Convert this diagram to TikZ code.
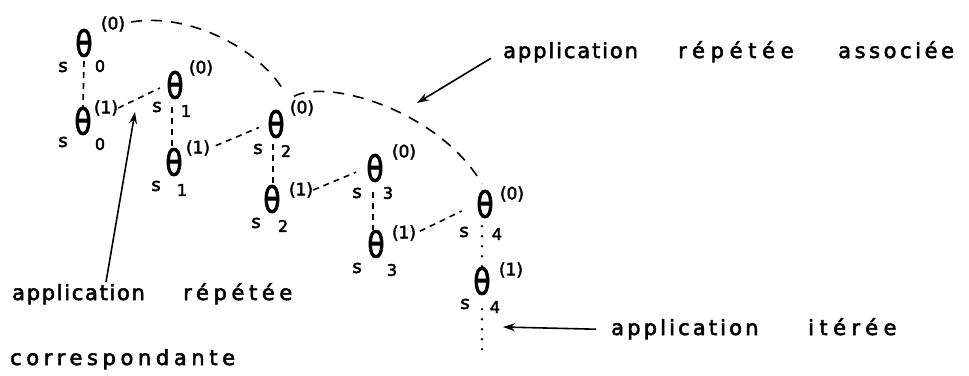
\documentclass[tikz,border=0pt]{standalone}
\usepackage{fontspec}
\setmainfont{DejaVu Sans}
\newfontfamily\hand[FakeBold=2.5]{DejaVu Sans}
\usetikzlibrary{arrows.meta,calc}
\tikzset{
  th/.style={inner sep=0pt, font=\hand\fontsize{36}{36}\selectfont},
  sl/.style={inner sep=0pt, font=\hand\fontsize{18}{18}\selectfont},
  ix/.style={inner sep=0pt, font=\hand\fontsize{16}{16}\selectfont},
  sp/.style={inner sep=0pt, font=\hand\fontsize{17}{17}\selectfont},
  word/.style={inner sep=0pt, anchor=base west, font=\hand\fontsize{21}{21}\selectfont},
  tree/.style={line width=1.6pt, dash pattern=on 6pt off 5pt},
  bigarc/.style={line width=1.6pt, dash pattern=on 11pt off 9pt},
  dots/.style={line width=2.6pt, line cap=round, dash pattern=on 0pt off 10pt},
  arr/.style={line width=1.6pt, -{Stealth[length=12pt,width=8pt]}},
}
\newcommand{\thet}{\scalebox{0.78}[1]{θ}}
\begin{document}
\begin{tikzpicture}[x=1pt,y=-1pt]
\useasboundingbox (0,0) rectangle (969,375);
% level 0
\node[th] (t00) at (84,43) {\thet};
\node[sl] (s00) at (63,67) {s};
\node[ix] (i00) at (100,66) {0};
\node[sp] (p00) at (113,24) {(0)};
\node[th] (t01) at (83,121) {\thet};
\node[sl] (s01) at (63,142) {s};
\node[ix] (i01) at (100,144) {0};
\node[sp] (p01) at (106,108) {(1)};
% level 1
\node[th] (t10) at (175,85) {\thet};
\node[sl] (s10) at (157,107) {s};
\node[ix] (i10) at (186,111) {1};
\node[sp] (p10) at (201,68) {(0)};
\node[th] (t11) at (174,162) {\thet};
\node[sl] (s11) at (156,186) {s};
\node[ix] (i11) at (182,190) {1};
\node[sp] (p11) at (198,148) {(1)};
% level 2
\node[th] (t20) at (276,124) {\thet};
\node[sl] (s20) at (258,149) {s};
\node[ix] (i20) at (286,151) {2};
\node[sp] (p20) at (302,108) {(0)};
\node[th] (t21) at (272,199) {\thet};
\node[sl] (s21) at (256,223) {s};
\node[ix] (i21) at (283,226) {2};
\node[sp] (p21) at (301,190) {(1)};
% level 3
\node[th] (t30) at (375,168) {\thet};
\node[sl] (s30) at (357,193) {s};
\node[ix] (i30) at (388,193) {3};
\node[sp] (p30) at (404,152) {(0)};
\node[th] (t31) at (376,244) {\thet};
\node[sl] (s31) at (357,268) {s};
\node[ix] (i31) at (392,270) {3};
\node[sp] (p31) at (404,233) {(1)};
% level 4
\node[th] (t40) at (485,204) {\thet};
\node[sl] (s40) at (464,232) {s};
\node[ix] (i40) at (497,234) {4};
\node[sp] (p40) at (512,194) {(0)};
\node[th] (t41) at (482,281) {\thet};
\node[sl] (s41) at (465,304) {s};
\node[ix] (i41) at (495,307) {4};
\node[sp] (p41) at (511,270) {(1)};
\coordinate (e41) at (482,356);
% vertical links
\draw[tree] (t00.south) ++(0,4) -- (t01.north);
\draw[tree] (t10.south) ++(-3,8) -- ($(t11.north)+(-2,0)$);
\draw[tree] (t20.south) ++(-3,6) -- ($(t21.north)+(1,0)$);
\draw[tree] (t30.south) ++(-2,10) -- ($(t31.north)+(-3,0)$);
\draw[dots] (t40.south) ++(-3,8) -- (t41.north);
\draw[dots] (t41.south) ++(0,14) -- (e41);
% diagonal links
\draw[tree, shorten >=7pt] (p01.east) -- (t10.west);
\draw[tree, shorten >=9pt, shorten <=6pt] (p11.east) -- (t20.west);
\draw[tree, shorten >=11pt] (p21.east) -- (t30.west);
\draw[tree, shorten >=16pt, shorten <=4pt] (p31.east) -- (t40.west);
% big arcs
\draw[bigarc] (p00.east) ++(6,-2) .. controls (190,12) and (262,50) .. ($(p20.north west)+(-4,-6)$);
\draw[bigarc] (p20.north) ++(-8,-4) .. controls (330,78) and (440,112) .. ($(t40.north)+(-3,-6)$);
% labels
\node[word] (w1a) at (503,58) {{\addfontfeature{LetterSpace=9}application}};
\node[word] (w1b) at (678,58) {{\addfontfeature{LetterSpace=27}répétée}};
\node[word] (w1c) at (838,58) {{\addfontfeature{LetterSpace=17}associée}};
\node[word] (w2a) at (12,300) {{\addfontfeature{LetterSpace=8}application}};
\node[word] (w2b) at (183,300) {{\addfontfeature{LetterSpace=22}répétée}};
\node[word] (w3) at (10,365) {{\addfontfeature{LetterSpace=22}correspondante}};
\node[word] (w4a) at (611,335) {{\addfontfeature{LetterSpace=15}application}};
\node[word] (w4b) at (808,335) {{\addfontfeature{LetterSpace=26}itérée}};
% arrows
\coordinate (h1) at (417,103);
\coordinate (tl2) at (106,282);
\coordinate (h2) at (135,112);
\coordinate (h3) at (503,327);
\draw[arr] ($(w1a.west)+(-12,6)$) -- (h1);
\draw[arr] (tl2) -- (h2);
\draw[arr] ($(w4a.west)+(-15,0)$) -- (h3);
\end{tikzpicture}
\end{document}
